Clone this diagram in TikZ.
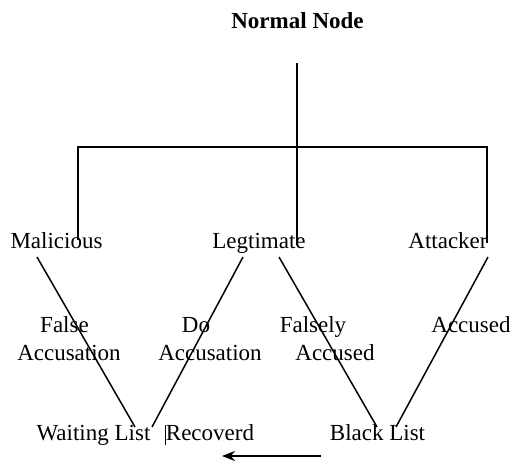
\documentclass[tikz,border=0pt]{standalone}
\usepackage{fontspec}
\setmainfont{Liberation Serif}
\usetikzlibrary{arrows.meta}
\begin{document}
\begin{tikzpicture}[x=1pt,y=-1pt,
  lbl/.style={font=\fontsize{23}{27}\selectfont, inner sep=0pt, anchor=base},
  title/.style={lbl, font=\fontsize{23}{27}\selectfont\bfseries},
  tree/.style={line width=1.8pt, black},
  edge/.style={line width=1.5pt, black},
  arr/.style={line width=1.6pt, -{Stealth[length=13pt,width=10pt]}}]
\useasboundingbox (0,0) rectangle (513,463);
% text nodes
\node[title] (normal) at (297.5,28) {Normal Node};
\node[lbl] (mal) at (56.5,248) {Malicious};
\node[lbl] (leg) at (259,248) {Legtimate};
\node[lbl] (att) at (448,248) {Attacker};
\node[lbl] (fa1) at (64.5,332) {False};
\node[lbl] (fa2) at (69,360) {Accusation};
\node[lbl] (da1) at (196,332) {Do};
\node[lbl] (da2) at (210,360) {Accusation};
\node[lbl] (fy1) at (313,332) {Falsely};
\node[lbl] (fy2) at (335,360) {Accused};
\node[lbl] (acc) at (471,332) {Accused};
\node[lbl] (wait) at (93.5,440) {Waiting List};
\node[lbl] (rec) at (210,440) {Recoverd};
\node[lbl] (black) at (377.5,440) {Black List};
% tree coordinates
\coordinate (top) at (297,63);
\coordinate (jl) at (78,147);
\coordinate (jr) at (487,147);
\coordinate (endl) at (78,240);
\coordinate (endm) at (297,245);
\coordinate (endr) at (487,243);
\draw[tree] (top) -- (endm);
\draw[tree] (endl) -- (jl) -- (jr) -- (endr);
% diagonals
\coordinate (m1) at (37,257);
\coordinate (m2) at (135,427);
\coordinate (l1) at (243,257);
\coordinate (l2) at (152,427);
\coordinate (r1) at (279,257);
\coordinate (r2) at (377,427);
\coordinate (a1) at (488,257);
\coordinate (a2) at (396,427);
\draw[edge] (m1) -- (m2);
\draw[edge] (l1) -- (l2);
\draw[edge] (r1) -- (r2);
\draw[edge] (a1) -- (a2);
% caret bar
\coordinate (c1) at (165,425);
\coordinate (c2) at (165,445);
\draw[line width=0.8pt] (c1) -- (c2);
% arrow
\coordinate (as) at (321,456);
\coordinate (ae) at (222,456);
\draw[arr] (as) -- (ae);
\end{tikzpicture}
\end{document}
